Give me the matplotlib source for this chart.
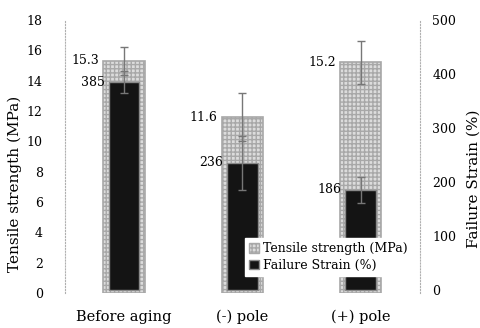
import numpy as np
import matplotlib.pyplot as plt
from matplotlib.patches import Patch

plt.rcParams['font.family'] = 'DejaVu Serif'
plt.rcParams['font.size'] = 9

conditions = ['Before aging', '(-) pole', '(+) pole']
tensile = [15.3, 11.6, 15.2]
tensile_err = [0.9, 1.6, 1.4]
strain = [385, 236, 186]
strain_err = [20, 50, 24]

x = np.arange(len(conditions))

fig = plt.figure(figsize=(4.81, 3.28), dpi=100)
ax = fig.add_axes([0.135, 0.107, 0.738, 0.832])
ax2 = ax.twinx()

# tensile strength (light, stippled) behind, failure strain (dark) in front
ax.bar(x, tensile, width=0.35, color='#dcdcdc', edgecolor='#a8a8a8',
       linewidth=1.2, hatch='++++', zorder=2)
ax.errorbar(x, tensile, yerr=tensile_err, fmt='none', ecolor='#777777',
            elinewidth=1, capsize=3, zorder=3)
ax2.bar(x, strain, width=0.26, color='#141414', edgecolor='#8a8a8a',
        linewidth=1, zorder=2)
ax2.errorbar(x, strain, yerr=strain_err, fmt='none', ecolor='#777777',
             elinewidth=1, capsize=3, zorder=3)

for xi, t, s in zip(x, tensile, strain):
    ax.text(xi - 0.21, t, f'{t}', ha='right', va='center', fontsize=9)
    ax2.text(xi - 0.16, s, f'{s}', ha='right', va='center', fontsize=9)

ax.set_xlim(-0.5, 2.5)
ax.set_ylim(0, 18)
ax.set_yticks(range(0, 19, 2))
ax2.set_ylim(-5, 500)
ax2.set_yticks(range(0, 501, 100))

ax.set_xticks(x)
ax.set_xticklabels(conditions, fontsize=10.5)
ax.tick_params(axis='x', length=0, pad=12)
ax.tick_params(axis='y', length=0, pad=16)
ax2.tick_params(axis='y', length=0, pad=9)

for a in (ax, ax2):
    for side in ('top', 'bottom', 'left', 'right'):
        a.spines[side].set_visible(False)
ax.spines['left'].set_visible(True)
ax.spines['left'].set_linestyle(':')
ax.spines['left'].set_color('#b0b0b0')
ax2.spines['right'].set_visible(True)
ax2.spines['right'].set_linestyle(':')
ax2.spines['right'].set_color('#b0b0b0')

ax.set_ylabel('Tensile strength (MPa)', fontsize=11)
ax.yaxis.set_label_coords(-0.121, 0.40)
ax2.set_ylabel('Failure Strain (%)', fontsize=11, rotation=90)
ax2.yaxis.set_label_coords(1.132, 0.42)

handles = [Patch(facecolor='#dcdcdc', edgecolor='#a8a8a8', hatch='++++'),
           Patch(facecolor='#141414', edgecolor='#8a8a8a')]
leg = ax2.legend(handles, ['Tensile strength (MPa)', 'Failure Strain (%)'],
                 loc='lower left', bbox_to_anchor=(0.49, 0.04),
                 fontsize=9, frameon=True, fancybox=False, framealpha=1,
                 edgecolor='white', handlelength=0.8, handleheight=0.8,
                 handletextpad=0.3, borderpad=0.3, labelspacing=0.3)
leg.set_zorder(10)

fig.savefig('out.png', dpi=100)
